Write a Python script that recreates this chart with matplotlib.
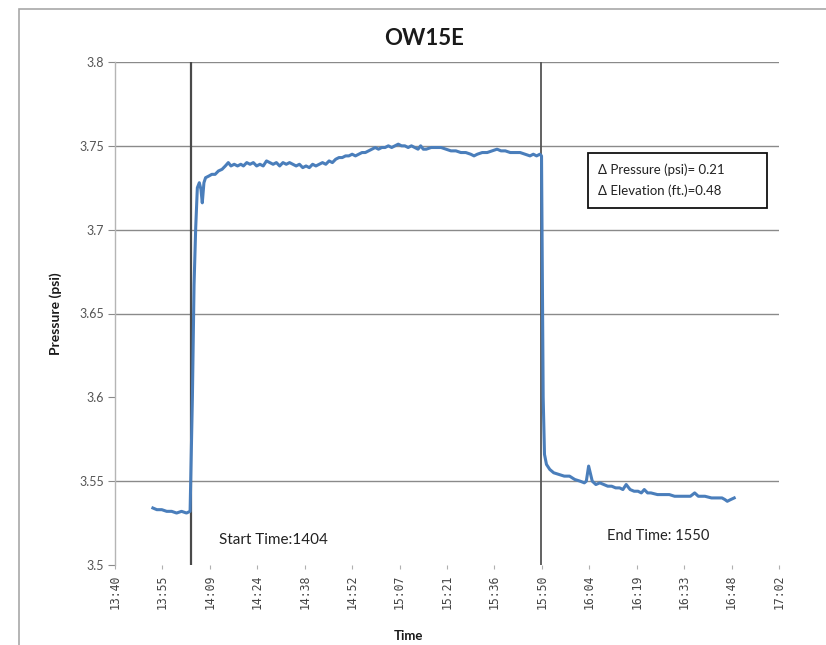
import numpy as np
import matplotlib
matplotlib.use("Agg")
import matplotlib.pyplot as plt
from matplotlib.patches import Rectangle

# Logged transducer readings: time (minutes after midnight) and pressure (psi)
time_min = [
    832.3, 833.5, 835.0, 836.5, 838.0, 839.5, 841.0, 842.5, 843.6,
    844.3, 844.8, 845.3, 845.8, 846.4, 846.9, 847.3, 847.8, 848.3,
    849.3, 850.2, 851.2, 852.2, 853.3, 854.3, 855.2, 856.0, 857.0,
    858.0, 859.0, 859.8, 860.8, 861.8, 862.8, 863.8, 864.8, 865.8,
    866.8, 867.8, 868.8, 869.8, 870.8, 871.8, 872.8, 873.8, 874.8,
    875.8, 876.8, 877.8, 878.8, 879.8, 880.8, 881.8, 882.8, 883.8,
    884.8, 885.8, 886.8, 887.8, 888.8, 889.8, 890.8, 891.8, 892.8,
    893.8, 894.8, 895.8, 896.8, 897.8, 898.8, 899.8, 900.8, 901.8,
    902.8, 903.8, 904.8, 905.8, 906.8, 907.8, 908.8, 909.8, 910.8,
    911.8, 912.8, 913.6, 914.4, 915.3, 916.8, 918.3, 919.8, 921.3,
    922.8, 924.3, 925.8, 927.3, 928.8, 929.8, 930.8, 932.3, 933.8,
    935.3, 936.8, 938.0, 939.3, 940.8, 942.3, 943.8, 945.3, 946.8,
    947.8, 948.8, 949.8, 950.3, 950.8, 951.2, 951.8, 952.8, 954.0,
    955.6, 957.2, 958.8, 960.4, 962.0, 963.3, 963.9, 964.6, 965.1,
    965.7, 966.8, 968.0, 969.2, 970.4, 971.6, 972.8, 974.0, 975.0,
    976.0, 977.2, 978.4, 979.6, 980.6, 981.5, 982.5, 983.5, 985.5,
    987.5, 989.1, 990.7, 992.3, 993.9, 995.5, 996.8, 997.9, 999.9,
    1001.9, 1003.5, 1005.1, 1006.0, 1006.7, 1007.7, 1008.8,
]
pressure_psi = [
    3.534, 3.533, 3.533, 3.532, 3.532, 3.531, 3.532, 3.531, 3.532,
    3.600, 3.667, 3.701, 3.725, 3.728, 3.724, 3.716, 3.728, 3.731,
    3.732, 3.733, 3.733, 3.735, 3.736, 3.738, 3.740, 3.738, 3.739,
    3.738, 3.739, 3.738, 3.740, 3.739, 3.740, 3.738, 3.739, 3.738,
    3.741, 3.740, 3.739, 3.740, 3.738, 3.740, 3.739, 3.740, 3.739,
    3.738, 3.739, 3.737, 3.738, 3.737, 3.739, 3.738, 3.739, 3.740,
    3.739, 3.741, 3.740, 3.742, 3.743, 3.743, 3.744, 3.744, 3.745,
    3.744, 3.745, 3.746, 3.746, 3.747, 3.748, 3.749, 3.748, 3.749,
    3.749, 3.750, 3.749, 3.750, 3.751, 3.750, 3.750, 3.749, 3.750,
    3.749, 3.748, 3.750, 3.748, 3.748, 3.749, 3.749, 3.749, 3.748,
    3.747, 3.747, 3.746, 3.746, 3.745, 3.744, 3.745, 3.746, 3.746,
    3.747, 3.748, 3.747, 3.747, 3.746, 3.746, 3.746, 3.745, 3.744,
    3.745, 3.744, 3.745, 3.744, 3.600, 3.566, 3.560, 3.557, 3.555,
    3.554, 3.553, 3.553, 3.551, 3.550, 3.549, 3.550, 3.559, 3.555,
    3.550, 3.548, 3.549, 3.548, 3.547, 3.547, 3.546, 3.546, 3.545,
    3.548, 3.545, 3.544, 3.544, 3.543, 3.545, 3.543, 3.543, 3.542,
    3.542, 3.542, 3.541, 3.541, 3.541, 3.541, 3.543, 3.541, 3.541,
    3.540, 3.540, 3.540, 3.539, 3.538, 3.539, 3.540,
]

# Test window markers (minutes after midnight)
start_min = 14 * 60 + 4
end_min = 15 * 60 + 50
start_label = "Start Time:1404"
end_label = "End Time: 1550"

# Axis ticks
x_tick_labels = ["13:40", "13:55", "14:09", "14:24", "14:38", "14:52", "15:07",
                 "15:21", "15:36", "15:50", "16:04", "16:19", "16:33", "16:48", "17:02"]
y_ticks = [3.5, 3.55, 3.6, 3.65, 3.7, 3.75, 3.8]
y_tick_labels = ["3.5", "3.55", "3.6", "3.65", "3.7", "3.75", "3.8"]
y_grid = [3.55, 3.65, 3.7, 3.75, 3.8]

box_lines = ["\u0394 Pressure (psi)= 0.21", "\u0394 Elevation (ft.)=0.48"]

W, H = 826, 645
fig = plt.figure(figsize=(W / 100, H / 100), dpi=100)
fig.patch.set_facecolor("white")

# chart-area frame
fig.add_artist(Rectangle((19 / W, -0.02), 1.1, 1 - 9 / H + 0.02,
                         transform=fig.transFigure, fill=False,
                         edgecolor="#a8a8a8", linewidth=1.2))

ax_left, ax_right, ax_top, ax_bottom = 115, 779, 62, 565
ax = fig.add_axes([ax_left / W, 1 - ax_bottom / H,
                   (ax_right - ax_left) / W, (ax_bottom - ax_top) / H])

# x axis in minutes; major unit is 0.01 day (14.4 min) starting at 0.57 day
x0 = 0.57 * 1440
x_ticks = [x0 + 14.4 * i for i in range(len(x_tick_labels))]
ax.set_xlim(x_ticks[0], x_ticks[-1])
ax.set_ylim(3.5, 3.8)

for g in y_grid:
    ax.axhline(g, color="#8a8a8a", linewidth=1.0, zorder=1)

ax.axvline(start_min, color="#4a4a4a", linewidth=1.6, zorder=2)
ax.axvline(end_min, color="#555555", linewidth=1.3, zorder=2)

ax.plot(time_min, pressure_psi, color="#4A7EBB", linewidth=2.2,
        solid_joinstyle="round", zorder=3)

for s in ["top", "right", "bottom"]:
    ax.spines[s].set_visible(False)
ax.spines["left"].set_color("#b5b5b5")
ax.spines["left"].set_linewidth(1.0)

ax.set_xticks(x_ticks)
ax.set_xticklabels(x_tick_labels, rotation=90, fontsize=8.3,
                   family="DejaVu Sans Mono", color="#444444")
ax.set_yticks(y_ticks)
ax.set_yticklabels(y_tick_labels, fontsize=9, family="Lato", color="#555555")
ax.tick_params(axis="x", length=3, color="#b0b0b0", pad=4)
ax.tick_params(axis="y", length=5, color="#8a8a8a", pad=3)

ax.set_title("OW15E", fontsize=16, fontweight="bold", family="Lato",
             color="#1a1a1a", pad=12, x=0.465)
ax.set_ylabel("Pressure (psi)", fontsize=10, fontweight="bold", family="Lato",
              color="#1a1a1a")
ax.yaxis.set_label_coords(-0.08, 0.5)
fig.text(408 / W, 1 - 636 / H, "Time", fontsize=9.5, fontweight="bold",
         family="Lato", color="#1a1a1a", ha="center", va="center")

ax.text(852.5, 3.515, start_label, fontsize=11, family="Lato",
        color="#222222", va="center", ha="left")
ax.text(970.3, 3.5175, end_label, fontsize=10.5, family="Lato",
        color="#222222", va="center", ha="left")

# summary box
fig.add_artist(Rectangle((588 / W, 1 - 208 / H), (767 - 588) / W, (208 - 153) / H,
                         transform=fig.transFigure, facecolor="white",
                         edgecolor="#111111", linewidth=1.3, zorder=5))
for i, line in enumerate(box_lines):
    fig.text(598 / W, 1 - (170 + 21 * i) / H, line, fontsize=9.5,
             family=["Lato", "DejaVu Sans"], color="#222222",
             va="center", ha="left", zorder=6)

fig.savefig("out.png", dpi=100, facecolor="white")
